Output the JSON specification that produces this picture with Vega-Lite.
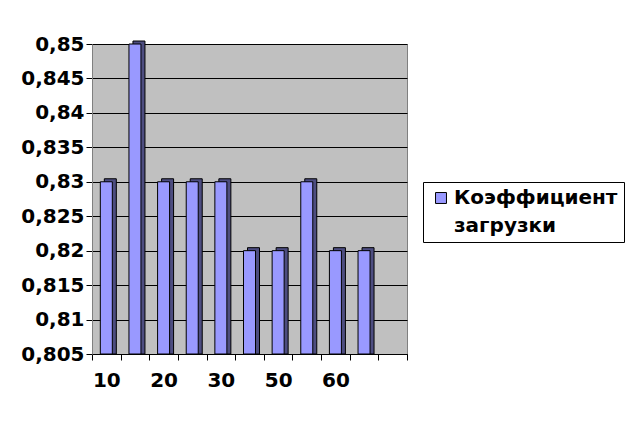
{
  "$schema": "https://vega.github.io/schema/vega-lite/v6.json",
  "width": 315,
  "height": 310,
  "autosize": {"type": "none"},
  "padding": {"left": 92, "top": 44, "right": 230, "bottom": 70},
  "background": "white",
  "config": {
    "view": {"fill": "#C0C0C0", "stroke": "#808080", "strokeWidth": 1},
    "font": "DejaVu Sans"
  },
  "data": {
    "values": [
      {"x": "10", "s": "Коэффициент загрузки", "v": 0.83},
      {"x": "15", "s": "Коэффициент загрузки", "v": 0.85},
      {"x": "20", "s": "Коэффициент загрузки", "v": 0.83},
      {"x": "25", "s": "Коэффициент загрузки", "v": 0.83},
      {"x": "30", "s": "Коэффициент загрузки", "v": 0.83},
      {"x": "40", "s": "Коэффициент загрузки", "v": 0.82},
      {"x": "50", "s": "Коэффициент загрузки", "v": 0.82},
      {"x": "55", "s": "Коэффициент загрузки", "v": 0.83},
      {"x": "60", "s": "Коэффициент загрузки", "v": 0.82},
      {"x": "65", "s": "Коэффициент загрузки", "v": 0.82}
    ]
  },
  "encoding": {
    "x": {
      "field": "x",
      "type": "ordinal",
      "sort": null,
      "scale": {"domain": ["10","15","20","25","30","40","50","55","60","65","70"], "paddingInner": 0, "paddingOuter": 0},
      "axis": {
        "title": null,
        "tickBand": "extent",
        "tickSize": 6,
        "tickColor": "black",
        "domainColor": "black",
        "labelAngle": 0,
        "labelFontSize": 20,
        "labelFontWeight": "bold",
        "labelColor": "black",
        "labelPadding": 10,
        "labelExpr": "indexof(['10','20','30','50','60'], datum.label) >= 0 ? datum.label : ''",
        "grid": false
      }
    },
    "y": {
      "field": "v",
      "type": "quantitative",
      "scale": {"domain": [0.805, 0.85], "zero": false, "nice": false},
      "axis": {
        "title": null,
        "values": [0.805, 0.81, 0.815, 0.82, 0.825, 0.83, 0.835, 0.84, 0.845, 0.85],
        "labelExpr": "replace(format(datum.value, '.3~f'), '.', ',')",
        "labelFontSize": 20,
        "labelFontWeight": "bold",
        "labelColor": "black",
        "labelPadding": 2,
        "tickSize": 6,
        "tickColor": "black",
        "domainColor": "#808080",
        "grid": true,
        "gridColor": "black",
        "gridOpacity": 1,
        "gridWidth": 1
      }
    }
  },
  "layer": [
    {
      "mark": {"type": "bar", "size": 12, "xOffset": 4, "yOffset": -3, "color": "#4D4D80", "stroke": "black", "strokeWidth": 1, "clip": false},
      "encoding": {"y2": {"datum": 0.805}}
    },
    {
      "mark": {"type": "bar", "size": 12, "xOffset": 0, "stroke": "black", "strokeWidth": 1},
      "encoding": {
        "y2": {"datum": 0.805},
        "color": {
          "field": "s",
          "type": "nominal",
          "scale": {"range": ["#9999FF"]},
          "legend": {
            "title": null,
            "orient": "none",
            "legendX": 331,
            "legendY": 138,
            "strokeColor": "black",
            "fillColor": "white",
            "padding": 6,
            "symbolType": "square",
            "symbolSize": 120,
            "symbolStrokeColor": "black",
            "symbolStrokeWidth": 1,
            "symbolOffset": 2,
            "labelFontSize": 20,
            "labelFontWeight": "bold",
            "labelColor": "black",
            "labelLimit": 300,
            "labelOffset": 3,
            "labelExpr": "split(datum.label, ' ')",
            "encode": {"labels": {"update": {"lineHeight": {"value": 28}}}}
          }
        }
      }
    }
  ]
}
